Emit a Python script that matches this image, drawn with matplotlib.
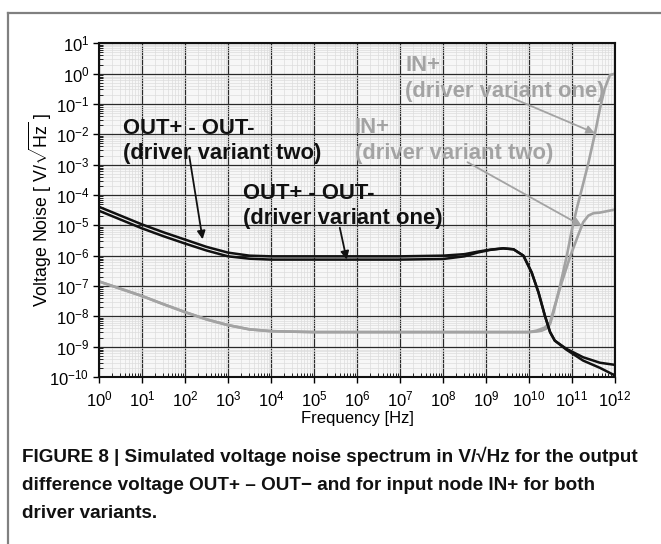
import numpy as np
import matplotlib
matplotlib.use("Agg")
import matplotlib.pyplot as plt
from matplotlib.lines import Line2D
from matplotlib.ticker import LogLocator, NullFormatter

plt.rcParams['font.family'] = ['Liberation Sans', 'DejaVu Sans']
plt.rcParams['mathtext.fontset'] = 'custom'
plt.rcParams['mathtext.rm'] = 'Liberation Sans'
plt.rcParams['mathtext.it'] = 'Liberation Sans:italic'
plt.rcParams['mathtext.bf'] = 'Liberation Sans:bold'

# ---- data ----
# OUT+ - OUT- curves (frequency in Hz, noise in V/sqrt(Hz))
out_freq = [1, 3.16, 10, 31.6, 100, 316, 1e3, 3.16e3, 1e4, 1e5, 1e6, 1e7, 1e8,
            3.16e8, 6.31e8, 1.26e9, 2.51e9, 4.37e9, 7.41e9, 1.15e10, 1.66e10,
            2.34e10, 3.09e10, 3.98e10, 7.41e10, 1.82e11, 4.47e11, 1e12]
out_two = [4.07e-5, 2.09e-5, 1.07e-5, 5.89e-6, 3.39e-6, 1.95e-6, 1.26e-6, 1.0e-6,
           9.5e-7, 9.5e-7, 9.5e-7, 9.5e-7, 1.0e-6, 1.12e-6, 1.35e-6, 1.58e-6,
           1.74e-6, 1.62e-6, 1.0e-6, 2.82e-7, 6.17e-8, 1.05e-8, 3.02e-9, 1.58e-9,
           8.5e-10, 4.47e-10, 2.95e-10, 2.51e-10]
out_one = [3.02e-5, 1.55e-5, 7.94e-6, 4.37e-6, 2.51e-6, 1.48e-6, 9.5e-7, 7.94e-7,
           7.41e-7, 7.41e-7, 7.41e-7, 7.41e-7, 7.76e-7, 9.5e-7, 1.26e-6, 1.55e-6,
           1.74e-6, 1.62e-6, 1.0e-6, 2.82e-7, 6.17e-8, 1.05e-8, 3.02e-9, 1.58e-9,
           7.94e-10, 3.47e-10, 2.0e-10, 1.12e-10]

# IN+ curves
in_one_freq = [1, 3.16, 10, 31.6, 100, 316, 1e3, 3.16e3, 1e4, 1e5, 1e6, 1e7, 1e8,
               1e9, 1e10, 1.51e10, 2.0e10, 2.57e10, 3.09e10, 3.72e10, 5.25e10,
               7.59e10, 9.77e10, 1.29e11, 1.66e11, 2.4e11, 3.39e11, 4.47e11,
               5.75e11, 7.59e11, 1e12]
in_one = [1.41e-7, 8.13e-8, 4.68e-8, 2.51e-8, 1.38e-8, 7.94e-9, 5.13e-9, 3.72e-9,
          3.24e-9, 3.02e-9, 3.02e-9, 3.02e-9, 3.02e-9, 3.02e-9, 3.02e-9, 3.16e-9,
          3.39e-9, 3.98e-9, 5.62e-9, 1.35e-8, 1.0e-7, 1.0e-6, 6.31e-6, 3.55e-5,
          1.41e-4, 1.12e-3, 1.0e-2, 7.08e-2, 0.316, 0.891, 1.0]
in_two_freq = [1, 3.16, 10, 31.6, 100, 316, 1e3, 3.16e3, 1e4, 1e5, 1e6, 1e7, 1e8,
               1e9, 1e10, 1.51e10, 2.34e10, 3.09e10, 3.98e10, 5.75e10, 8.91e10,
               1.41e11, 1.82e11, 2.4e11, 3.16e11, 4.47e11, 1e12]
in_two = [1.41e-7, 8.13e-8, 4.68e-8, 2.51e-8, 1.38e-8, 7.94e-9, 5.13e-9, 3.72e-9,
          3.24e-9, 3.02e-9, 3.02e-9, 3.02e-9, 3.02e-9, 3.02e-9, 3.02e-9, 3.39e-9,
          4.27e-9, 6.31e-9, 2.24e-8, 1.29e-7, 8.71e-7, 5.0e-6, 1.26e-5, 2.09e-5,
          2.51e-5, 2.63e-5, 3.31e-5]

x_label = "Frequency [Hz]"
y_label = r"Voltage Noise [ V/$\sqrt{\mathrm{Hz}}$ ]"
label_out_two = "OUT+ - OUT-\n(driver variant two)"
label_out_one = "OUT+ - OUT-\n(driver variant one)"
label_in_one = "IN+\n(driver variant one)"
label_in_two = "IN+\n(driver variant two)"
caption = ["FIGURE 8 | Simulated voltage noise spectrum in V/\u221aHz for the output",
           "difference voltage OUT+ \u2013 OUT\u2212 and for input node IN+ for both",
           "driver variants."]

BLACK = "#111111"
GRAY = "#a3a3a3"

fig = plt.figure(figsize=(6.61, 5.44), dpi=100)
ax = fig.add_axes([99/661, 1-377/544, (615-99)/661, (377-43.3)/544])

ax.set_xscale('log')
ax.set_yscale('log')
ax.set_xlim(1, 1e12)
ax.set_ylim(1e-10, 1e1)

ax.xaxis.set_major_locator(LogLocator(base=10, numticks=20))
ax.yaxis.set_major_locator(LogLocator(base=10, numticks=20))
ax.xaxis.set_minor_locator(LogLocator(base=10, subs=np.arange(2, 10), numticks=200))
ax.yaxis.set_minor_locator(LogLocator(base=10, subs=np.arange(2, 10), numticks=200))
ax.xaxis.set_minor_formatter(NullFormatter())
ax.yaxis.set_minor_formatter(NullFormatter())

ax.set_facecolor("#f7f7f7")
ax.grid(True, which='minor', color='#dcdcdc', lw=0.5)
ax.grid(True, which='major', color='#2a2a2a', lw=0.9)
ax.set_axisbelow(True)

for s in ax.spines.values():
    s.set_linewidth(1.5)
    s.set_color('#111111')

ax.tick_params(which='major', direction='out', length=4, width=1, labelsize=12, pad=3)
ax.tick_params(axis='x', which='major', pad=5)
ax.tick_params(which='minor', direction='in', length=3, width=0.6)

ax.plot(in_two_freq, in_two, color=GRAY, lw=1.9, solid_joinstyle='round')
ax.plot(in_one_freq, in_one, color=GRAY, lw=1.9, solid_joinstyle='round')
ax.plot(out_freq, out_one, color=BLACK, lw=1.8, solid_joinstyle='round')
ax.plot(out_freq, out_two, color=BLACK, lw=1.8, solid_joinstyle='round')

ax.set_xlabel(x_label, fontsize=12, labelpad=1)
ax.set_ylabel(y_label, fontsize=12.8)
ax.yaxis.set_label_coords(-0.088, 0.5)

tkw = dict(fontsize=15.8, fontweight='bold', va='top', ha='left', linespacing=1.3)
ax.text(10**0.565, 10**-1.45, label_out_two, color=BLACK, **tkw)
ax.text(10**3.36, 10**-3.59, label_out_one, color=BLACK, **tkw)
ax.text(10**7.12, 10**0.60, label_in_one, color=GRAY, **tkw)
ax.text(10**5.95, 10**-1.42, label_in_two, color=GRAY, **tkw)

akw = dict(arrowstyle='-|>', lw=1.3, mutation_scale=12, shrinkA=0, shrinkB=0)
ax.annotate('', xy=(10**2.41, 10**-5.46), xytext=(10**2.10, 10**-2.72),
            arrowprops=dict(color=BLACK, **akw))
ax.annotate('', xy=(10**5.76, 10**-6.13), xytext=(10**5.60, 10**-5.08),
            arrowprops=dict(color=BLACK, **akw))
ax.annotate('', xy=(10**11.53, 10**-1.96), xytext=(10**9.52, 10**-0.75),
            arrowprops=dict(color=GRAY, **akw))
ax.annotate('', xy=(10**11.23, 10**-5.02), xytext=(10**8.57, 10**-2.92),
            arrowprops=dict(color=GRAY, **akw))

# figure frame (top and left border)
fc = '#808080'
fig.add_artist(Line2D([8/661, 1.0], [1-13/544, 1-13/544], color=fc, lw=1.6,
                      transform=fig.transFigure))
fig.add_artist(Line2D([8/661, 8/661], [0, 1-13/544], color=fc, lw=1.6,
                      transform=fig.transFigure))

for i, line in enumerate(caption):
    fig.text(22/661, 1-(462 + 28*i)/544, line, fontsize=13.6, fontweight='bold',
             ha='left', va='baseline', color='#111111')

fig.savefig("out.png", dpi=100)
